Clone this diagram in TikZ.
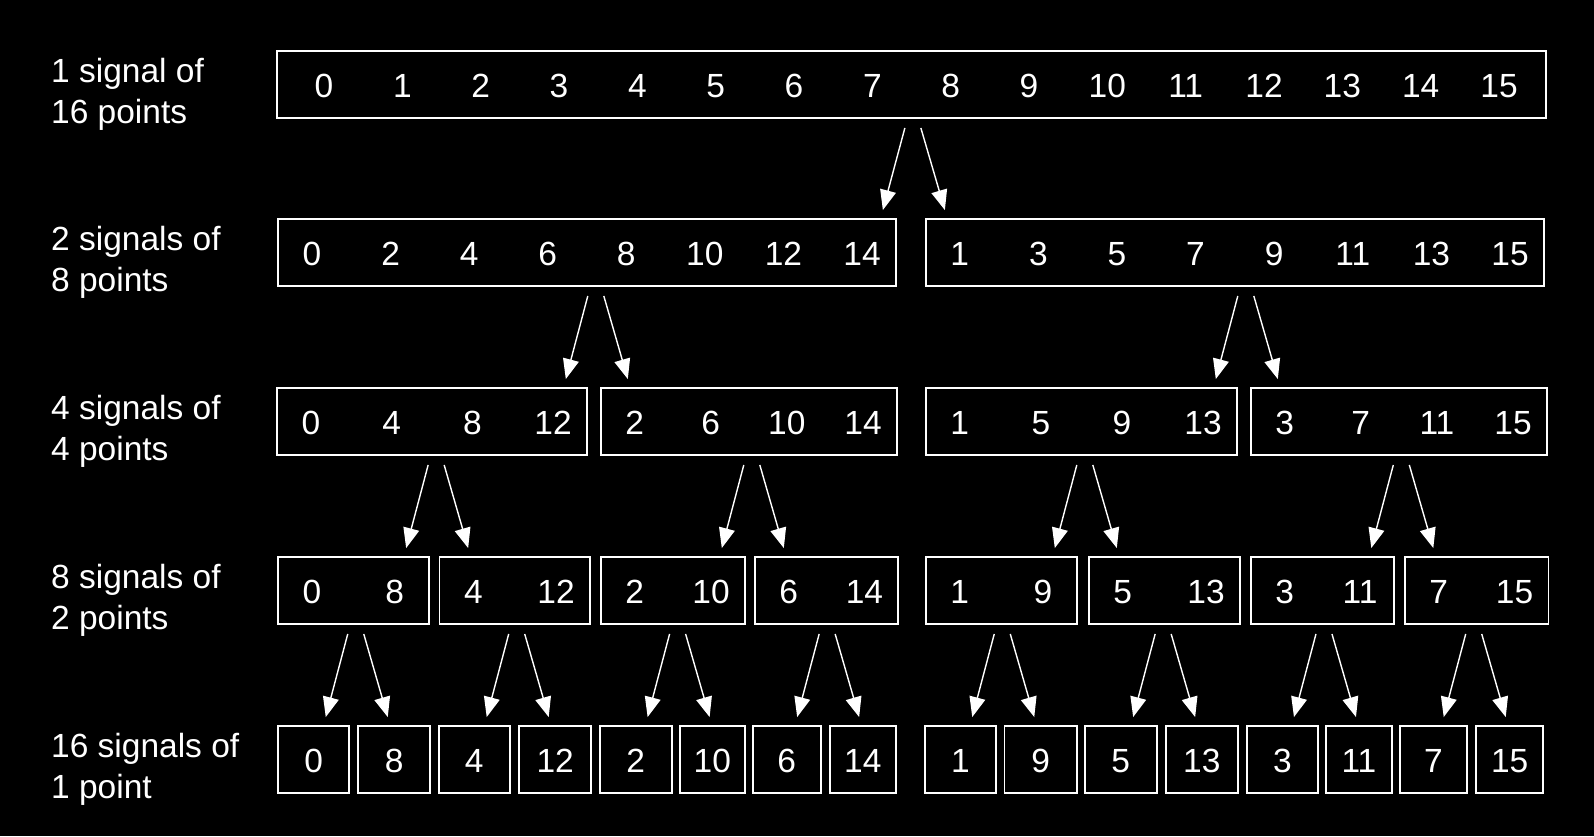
\documentclass[tikz,border=0pt]{standalone}
\usepackage{fontspec}
\setmainfont{Liberation Sans}
\usetikzlibrary{calc,arrows.meta}
\tikzset{
  box/.style={draw=white, line width=1.9pt, inner sep=0pt, fill=black},
  num/.style={text=white, inner sep=0pt, anchor=base, font=\fontsize{33.5}{41.6}\selectfont},
  lab/.style={text=white, inner sep=0pt, anchor=base west, font=\fontsize{33.5}{41.6}\selectfont},
  arr/.style={draw=white, line width=1.4pt, -{Triangle[length=20pt,width=16pt]}}
}
% #1 name, #2 x0, #3 x1, #4 y0, #5 y1, #6 pad, #7 n, #8 list
\newcommand\sigbox[8]{%
  \node[box, minimum width={(#3-#2)*1pt}, minimum height={(#5-#4)*1pt}] (#1) at ({(#2+#3)/2},{-(#4+#5)/2}) {};
  \foreach \val [count=\idx] in {#8} {
    \pgfmathsetmacro\stp{(#3-#2-2*#6)/max(#7-1,1)}
    \pgfmathsetmacro\xx{ifthenelse(#7==1,(#2+#3)/2,#2+#6+\stp*(\idx-1))}
    \node[num] (#1-\idx) at (\xx, {-(#4+#5)/2-13}) {\val};
  }
}
% #1 parent, #2 child1, #3 child2
\newcommand\splitto[3]{%
  \coordinate (#1-g) at ($(#2.north east)!0.5!(#3.north west)$);
  \coordinate (#1-s) at (#1-g |- #1.south);
  \draw[arr] ($(#1-s)+(-6,-9)$) -- ($(#1-g)+(-28,8)$);
  \draw[arr] ($(#1-s)+(10,-9)$) -- ($(#1-g)+(34,8)$);
}
% #1 name, #2 baseline y of first line, #3 line1, #4 line2
\newcommand\rowlabel[4]{%
  \node[lab] (#1-a) at (51,{-#2}) {#3};
  \node[lab] (#1-b) at (51,{-#2-41.6}) {#4};
}
\begin{document}
\begin{tikzpicture}[x=1pt,y=1pt]
\useasboundingbox (0,0) rectangle (1594,-836);
\fill[black] (0,0) rectangle (1594,-836);

% labels
\rowlabel{l1}{82}{1 signal of}{16 points}
\rowlabel{l2}{250}{2 signals of}{8 points}
\rowlabel{l3}{419}{4 signals of}{4 points}
\rowlabel{l4}{588}{8 signals of}{2 points}
\rowlabel{l5}{757}{16 signals of}{1 point}

% row 1
\sigbox{r1a}{277}{1546}{51}{118}{47}{16}{0,1,...,15}
% row 2
\sigbox{r2a}{278}{896}{219}{286}{34}{8}{0,2,...,14}
\sigbox{r2b}{925.7}{1544}{219}{286}{34}{8}{1,3,...,15}
% row 3
\sigbox{r3a}{277}{587}{388}{455}{34}{4}{0,4,8,12}
\sigbox{r3b}{600.6}{897}{388}{455}{34}{4}{2,6,10,14}
\sigbox{r3c}{925.7}{1237}{388}{455}{34}{4}{1,5,9,13}
\sigbox{r3d}{1250.6}{1547}{388}{455}{34}{4}{3,7,11,15}
% row 4
\sigbox{r4a}{278}{428.8}{557}{624}{34}{2}{0,8}
\sigbox{r4b}{439.5}{590}{557}{624}{34}{2}{4,12}
\sigbox{r4c}{600.6}{745}{557}{624}{34}{2}{2,10}
\sigbox{r4d}{754.6}{898.4}{557}{624}{34}{2}{6,14}
\sigbox{r4e}{925.7}{1077}{557}{624}{34}{2}{1,9}
\sigbox{r4f}{1088.6}{1240}{557}{624}{34}{2}{5,13}
\sigbox{r4g}{1250.6}{1394}{557}{624}{34}{2}{3,11}
\sigbox{r4h}{1404.6}{1548.5}{557}{624}{34}{2}{7,15}
% row 5
\sigbox{r5a}{278}{349.3}{726}{793}{0}{1}{0}
\sigbox{r5b}{358.2}{430}{726}{793}{0}{1}{8}
\sigbox{r5c}{438.6}{510}{726}{793}{0}{1}{4}
\sigbox{r5d}{519.4}{591}{726}{793}{0}{1}{12}
\sigbox{r5e}{599.7}{671.6}{726}{793}{0}{1}{2}
\sigbox{r5f}{679.6}{745}{726}{793}{0}{1}{10}
\sigbox{r5g}{752.9}{820.7}{726}{793}{0}{1}{6}
\sigbox{r5h}{829.6}{896}{726}{793}{0}{1}{14}
\sigbox{r5i}{924.8}{996}{726}{793}{0}{1}{1}
\sigbox{r5j}{1004.5}{1077}{726}{793}{0}{1}{9}
\sigbox{r5k}{1084.6}{1156.7}{726}{793}{0}{1}{5}
\sigbox{r5l}{1165.6}{1238}{726}{793}{0}{1}{13}
\sigbox{r5m}{1246.6}{1318}{726}{793}{0}{1}{3}
\sigbox{r5n}{1325.9}{1392}{726}{793}{0}{1}{11}
\sigbox{r5o}{1399.8}{1467}{726}{793}{0}{1}{7}
\sigbox{r5p}{1476.4}{1543}{726}{793}{0}{1}{15}

% arrows
\splitto{r1a}{r2a}{r2b}
\splitto{r2a}{r3a}{r3b}
\splitto{r2b}{r3c}{r3d}
\splitto{r3a}{r4a}{r4b}
\splitto{r3b}{r4c}{r4d}
\splitto{r3c}{r4e}{r4f}
\splitto{r3d}{r4g}{r4h}
\splitto{r4a}{r5a}{r5b}
\splitto{r4b}{r5c}{r5d}
\splitto{r4c}{r5e}{r5f}
\splitto{r4d}{r5g}{r5h}
\splitto{r4e}{r5i}{r5j}
\splitto{r4f}{r5k}{r5l}
\splitto{r4g}{r5m}{r5n}
\splitto{r4h}{r5o}{r5p}
\end{tikzpicture}
\end{document}
